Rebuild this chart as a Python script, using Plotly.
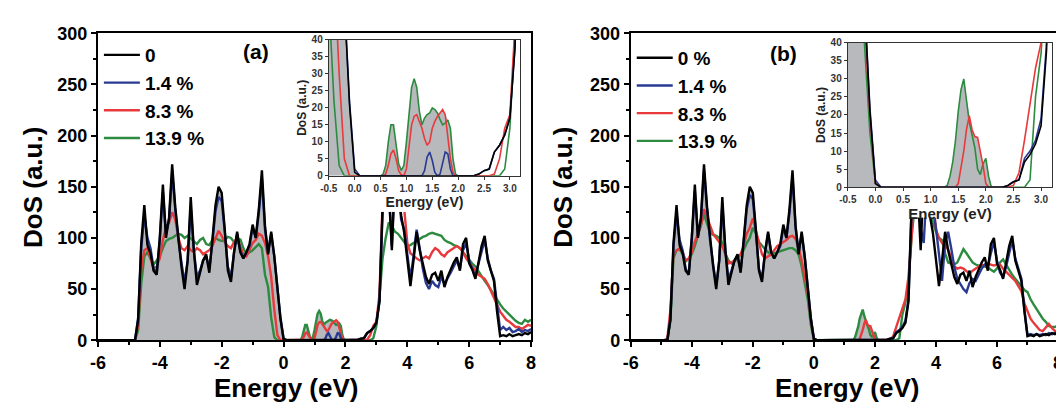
import numpy as np
import plotly.graph_objects as go

# page is 1064x413; the html body adds an 8px margin, so the figure is drawn 8px in
OFF = 8
W, H = 1064 - OFF, 413 - OFF

# ---------------- energy grid (eV) ----------------
energy_vb = [-6.0] + list(np.round(np.linspace(-5.0, 0.3, 54), 2))
energy_gap = list(np.round(np.linspace(0.40, 2.10, 35), 2))
energy_cb = list(np.round(np.linspace(2.2, 8.0, 59), 2))
energy = np.array(energy_vb + energy_gap + energy_cb)

# ---------------- 0 % (shared by both panels) ----------------
black_vb = [0, 0, 0, 0, 20, 95, 132, 93, 85, 68, 64, 100, 152, 100, 120, 172, 130, 97, 72, 50,
            78, 140, 88, 54, 66, 78, 84, 66, 98, 132, 150, 144, 108, 68, 57, 86, 106, 86, 80, 86,
            94, 113, 100, 128, 166, 112, 84, 106, 82, 50, 21, 1, 0, 0, 0]
black_gap = [0] * 35
black_cb = [0, 0, 0.5, 1.5, 2, 7, 9, 12, 17, 38, 130, 170, 150, 88, 160, 150, 122, 105, 80, 53,
            78, 106, 88, 75, 62, 55, 64, 66, 58, 68, 52, 62, 70, 76, 81, 68, 94, 100, 75, 69,
            60, 77, 92, 102, 78, 68, 58, 28, 4, 5, 4, 6, 4, 5, 6, 5, 7, 6, 8]

# ---------------- panel (a) ----------------
blue_a_vb = [0, 0, 0, 0, 22, 90, 122, 100, 90, 70, 66, 98, 145, 104, 118, 164, 128, 98, 76, 56,
             78, 130, 88, 62, 68, 78, 82, 70, 96, 126, 140, 136, 106, 72, 62, 86, 104, 88, 80, 86,
             92, 110, 100, 124, 158, 108, 86, 104, 82, 52, 22, 2, 0, 0, 0]
blue_a_gap = [0, 0, 0, 0, 0, 0, 0, 0, 0, 0, 0, 0,
              0, 0, 0, 0, 0, 0, 0, 1.5, 5.5, 7, 4.5, 1, 0, 0.5, 3.5, 7, 6.5, 2, 0, 0,
              0, 0, 0]
blue_a_cb = [0, 0, 0.5, 1.5, 2, 7, 9, 12, 17, 38, 125, 165, 145, 92, 165, 150, 118, 108, 85, 60,
             82, 108, 90, 70, 56, 50, 58, 54, 52, 62, 55, 60, 66, 72, 78, 70, 88, 95, 78, 70,
             62, 75, 88, 98, 80, 68, 60, 35, 10, 13, 10, 12, 8, 9, 11, 8, 10, 9, 11]

red_a_vb = [0, 0, 0, 0, 15, 70, 88, 90, 80, 70, 72, 80, 98, 110, 115, 125, 118, 100, 90, 88,
            92, 88, 86, 90, 88, 84, 86, 88, 92, 100, 107, 102, 96, 92, 90, 96, 100, 92, 84, 82,
            88, 95, 98, 104, 102, 95, 82, 62, 30, 5, 0, 0, 0, 0, 0]
red_a_gap = [0, 0, 0, 0, 0.5, 3, 6.5, 7.6, 5, 1.5, 0.3, 0,
             2, 8, 15, 17.5, 18, 16, 14, 11, 9, 10, 14, 16, 17.5, 18.5, 19.5, 18, 12, 5, 1, 0,
             0, 0, 0]
red_a_cb = [0, 0, 0, 0, 0, 0.5, 5, 14, 18, 45, 135, 180, 200, 190, 170, 160, 150, 128, 95, 85,
            82, 80, 78, 80, 82, 80, 86, 90, 88, 84, 82, 86, 88, 90, 92, 90, 86, 80, 76, 72,
            68, 64, 62, 60, 55, 48, 42, 35, 28, 24, 20, 18, 15, 13, 13, 11, 13, 15, 14]

green_a_vb = [0, 0, 0, 0, 10, 55, 82, 86, 80, 74, 78, 82, 90, 97, 99, 100, 102, 104, 103, 100,
              102, 99, 96, 94, 98, 100, 94, 93, 98, 100, 98, 97, 98, 101, 100, 96, 95, 99, 90, 84,
              86, 88, 91, 94, 90, 64, 52, 22, 3, 0, 0, 0, 0, 0, 0]
green_a_gap = [0, 0, 0, 0.5, 3, 10, 15, 15, 9, 3.5, 1.6, 3,
               10, 19, 26, 28.6, 26, 19, 15, 17, 18, 18.5, 20, 19.5, 18.5, 16.5, 15, 15.5, 16.4, 14, 5, 0.5,
               0, 0, 0]
green_a_cb = [0, 0, 0, 0, 0, 0, 0, 2, 14, 42, 80, 100, 115, 112, 106, 104, 100, 95, 92, 93,
              95, 97, 99, 101, 102, 104, 105, 104, 103, 102, 98, 96, 95, 93, 92, 90, 86, 82, 78, 75,
              72, 67, 63, 58, 54, 49, 44, 40, 35, 31, 28, 24, 21, 19, 17, 16, 20, 18, 20]

# ---------------- panel (b) ----------------
blue_b_vb = [0, 0, 0, 0, 22, 92, 124, 98, 88, 70, 64, 100, 146, 102, 118, 166, 128, 97, 74, 54,
             78, 132, 88, 60, 68, 78, 82, 68, 96, 128, 142, 138, 106, 70, 60, 86, 104, 86, 80, 86,
             92, 110, 100, 124, 160, 110, 86, 104, 82, 52, 22, 2, 0, 0, 0]
blue_b_gap = [0] * 35
blue_b_cb = [0, 0, 0.5, 1.5, 2, 8, 10, 13, 19, 40, 125, 165, 150, 110, 95, 150, 140, 130, 110, 85,
             58, 95, 106, 90, 72, 60, 55, 50, 47, 56, 60, 58, 64, 70, 74, 72, 85, 96, 78, 66,
             62, 72, 85, 98, 80, 70, 60, 30, 5, 6, 5, 6, 5, 6, 5, 7, 6, 7, 8]

red_b_vb = [0, 0, 0, 2, 30, 85, 88, 90, 86, 78, 80, 86, 96, 104, 112, 128, 120, 110, 104, 100,
            96, 92, 84, 75, 76, 78, 80, 84, 92, 104, 110, 119, 108, 96, 84, 80, 82, 84, 88, 92,
            94, 96, 98, 101, 102, 99, 90, 78, 60, 46, 20, 1, 0, 0, 0]
red_b_gap = [0] * 21 + [0, 1, 5, 10, 16, 19.8, 16, 14, 13.8, 10, 6, 1, 0, 0]
red_b_cb = [0, 0, 0, 0.5, 4, 13, 23, 33, 40, 62, 100, 150, 180, 190, 180, 170, 160, 140, 108, 100,
            95, 92, 89, 80, 72, 70, 71, 70, 67, 65, 68, 70, 72, 74, 73, 75, 74, 73, 74, 74,
            70, 67, 64, 62, 58, 53, 48, 36, 28, 21, 17, 13, 10, 9, 12, 16, 12, 9, 10]

green_b_vb = [0, 0, 0, 0, 20, 80, 88, 89, 84, 77, 80, 84, 92, 102, 112, 123, 114, 105, 103, 102,
              100, 95, 85, 78, 75, 77, 80, 84, 88, 95, 100, 110, 104, 96, 92, 89, 86, 84, 85, 86,
              87, 88, 89, 90, 90, 88, 84, 72, 56, 40, 15, 1, 0, 0, 0]
green_b_gap = [0] * 17 + [0, 0.5, 3, 7, 13, 21, 27, 30, 24, 18, 14.5, 11, 5, 3.5, 6.5, 8, 3, 0]
green_b_cb = [0, 0, 0, 0, 0, 0, 2, 25, 37, 55, 100, 130, 150, 160, 150, 140, 130, 115, 106, 100,
              98, 85, 76, 75, 74, 76, 82, 89, 85, 80, 76, 74, 73, 72, 72, 71, 69, 67, 70, 76,
              79, 74, 68, 64, 60, 56, 52, 49, 47, 40, 35, 30, 25, 21, 18, 14, 13, 13, 14]

labels_a = ["0", "1.4 %", "8.3 %", "13.9 %"]
labels_b = ["0 %", "1.4 %", "8.3 %", "13.9 %"]
x_ticks = [-6, -4, -2, 0, 2, 4, 6, 8]
y_ticks = [0, 50, 100, 150, 200, 250, 300]
inset_x_ticks = [-0.5, 0.0, 0.5, 1.0, 1.5, 2.0, 2.5, 3.0]
inset_y_ticks = [0, 5, 10, 15, 20, 25, 30, 35, 40]

# ---------------- styles ----------------
COL = {"black": "#000000", "blue": "#283a92", "red": "#e83a3c", "green": "#2d8b40"}
GRAY = "#b7b9bc"
FONT = "Arial, Liberation Sans, sans-serif"


def series(vb, gap, cb):
    return np.array(vb + gap + cb, dtype=float)


black = series(black_vb, black_gap, black_cb)
panel_a = {
    "black": black,
    "blue": series(blue_a_vb, blue_a_gap, blue_a_cb),
    "red": series(red_a_vb, red_a_gap, red_a_cb),
    "green": series(green_a_vb, green_a_gap, green_a_cb),
}
panel_b = {
    "black": black,
    "blue": series(blue_b_vb, blue_b_gap, blue_b_cb),
    "red": series(red_b_vb, red_b_gap, red_b_cb),
    "green": series(green_b_vb, green_b_gap, green_b_cb),
}


def fx(px):  # page pixel -> paper fraction
    return (px - OFF) / W


def fy(py):
    return 1 - (py - OFF) / H


fig = go.Figure()

vb_mask = energy <= 0.3
gap_mask = (energy >= 0.3) & (energy <= 2.2)


def add_panel(data, labels, xa, ya, legend_name, inset_xa, inset_ya):
    for (ax, ay, main) in [(xa, ya, True), (inset_xa, inset_ya, False)]:
        fig.add_trace(go.Scatter(x=energy[vb_mask], y=data["black"][vb_mask], mode="lines",
                                 line=dict(width=0), fill="tozeroy", fillcolor=GRAY,
                                 xaxis=ax, yaxis=ay, showlegend=False, hoverinfo="skip"))
        gap_top = np.maximum(np.maximum(data["green"], data["red"]), data["blue"])
        fig.add_trace(go.Scatter(x=energy[gap_mask], y=gap_top[gap_mask], mode="lines",
                                 line=dict(width=0), fill="tozeroy", fillcolor=GRAY,
                                 xaxis=ax, yaxis=ay, showlegend=False, hoverinfo="skip"))
        order = ["green", "red", "blue", "black"]
        rank = {"black": 1, "blue": 2, "red": 3, "green": 4}
        idx = {"black": 0, "blue": 1, "red": 2, "green": 3}
        for key in order:
            fig.add_trace(go.Scatter(
                x=energy, y=data[key], mode="lines",
                line=dict(color=COL[key], width=2.4 if main else 1.6),
                name=labels[idx[key]], xaxis=ax, yaxis=ay,
                showlegend=main, legend=legend_name, legendrank=rank[key],
                legendgroup=legend_name + key, hoverinfo="skip"))


add_panel(panel_a, labels_a, "x", "y", "legend", "x5", "y5")
add_panel(panel_b, labels_b, "x2", "y2", "legend2", "x6", "y6")

# empty traces creating the white backdrops behind insets
for ax, ay in [("x3", "y3"), ("x4", "y4")]:
    fig.add_trace(go.Scatter(x=[None], y=[None], xaxis=ax, yaxis=ay, showlegend=False,
                             hoverinfo="skip"))

tickfont_main = dict(family=FONT, size=18, color="black", weight="bold")
TITLE_FONT = dict(family=FONT, size=26, color="black", weight="bold")


def main_x(domain, anchor):
    return dict(domain=domain, range=[-6, 8], tickvals=x_ticks,
                ticktext=[str(v) for v in x_ticks], ticks="outside", ticklen=5,
                tickwidth=2, tickcolor="black", showline=True, linewidth=2, linecolor="black",
                mirror=True, showgrid=False, zeroline=False, tickfont=tickfont_main, anchor=anchor,
                minor=dict(dtick=1, ticks="outside", ticklen=3, tickwidth=1.5, tickcolor="black"))


def main_y(domain, anchor):
    return dict(domain=domain, range=[0, 300], tickvals=y_ticks, ticks="outside", ticklen=5,
                tickwidth=2, tickcolor="black", showline=True, linewidth=2, linecolor="black",
                mirror=True, showgrid=False, zeroline=False, tickfont=tickfont_main, anchor=anchor,
                minor=dict(dtick=25, ticks="outside", ticklen=3, tickwidth=1.5, tickcolor="black"))


inset_tick = dict(family=FONT, size=10, color="#333333", weight="bold")


def inset_x(domain, anchor, tsize):
    return dict(domain=domain, range=[-0.5, 3.2], tickvals=inset_x_ticks,
                ticktext=[f"{v:.1f}" for v in inset_x_ticks],
                ticks="outside", ticklen=3, tickwidth=1, tickcolor="#333", showline=True,
                linewidth=1.2, linecolor="#333", mirror=True, showgrid=False, zeroline=False,
                tickfont=inset_tick, anchor=anchor,
                title=dict(text="Energy (eV)", standoff=2,
                           font=dict(family=FONT, size=tsize, color="#222", weight="bold")))


def inset_y(domain, anchor):
    return dict(domain=domain, range=[0, 40], tickvals=inset_y_ticks, ticks="outside",
                ticklen=3, tickwidth=1, tickcolor="#333", showline=True, linewidth=1.2,
                linecolor="#333", mirror=True, showgrid=False, zeroline=False,
                tickfont=inset_tick, anchor=anchor,
                title=dict(text="DoS (a.u.)", standoff=2,
                           font=dict(family=FONT, size=12, color="#222", weight="bold")))


hidden = dict(visible=False, showgrid=False, zeroline=False, range=[0, 1])

legend_common = dict(bgcolor="rgba(0,0,0,0)", borderwidth=0, xanchor="left", yanchor="top",
                     font=dict(family=FONT, size=19, color="black", weight="bold"),
                     tracegroupgap=3, itemwidth=36, traceorder="normal")


def label(text, px, py, size=20, angle=0):
    return dict(text=text, x=fx(px), y=fy(py), xref="paper", yref="paper", showarrow=False,
                xanchor="center", yanchor="middle", textangle=angle,
                font=TITLE_FONT | dict(size=size))


fig.update_layout(
    width=W, height=H, margin=dict(l=0, r=0, t=0, b=0),
    paper_bgcolor="white", plot_bgcolor="white",
    font=dict(family=FONT),
    xaxis=main_x([fx(90), fx(529)], "y"),
    yaxis=main_y([fy(347), fy(24)], "x"),
    xaxis2=main_x([fx(630), fx(1063)], "y2"),
    yaxis2=main_y([fy(347), fy(24)], "x2"),
    xaxis3=hidden | dict(domain=[fx(292), fx(526)], anchor="y3"),
    yaxis3=hidden | dict(domain=[fy(212), fy(26)], anchor="x3"),
    xaxis4=hidden | dict(domain=[fx(815), fx(1061)], anchor="y4"),
    yaxis4=hidden | dict(domain=[fy(218), fy(26)], anchor="x4"),
    xaxis5=inset_x([fx(324), fx(518)], "y5", 14),
    yaxis5=inset_y([fy(174), fy(31)], "x5"),
    xaxis6=inset_x([fx(850), fx(1057)], "y6", 15),
    yaxis6=inset_y([fy(186), fy(34)], "x6"),
    legend=legend_common | dict(x=fx(91), y=fy(27)),
    legend2=legend_common | dict(x=fx(631), y=fy(30)),
    annotations=[
        label("(a)", 250, 43, 21),
        label("(b)", 785, 45, 21),
        label("Energy (eV)", 281, 397, 26),
        label("Energy (eV)", 850, 397, 26),
        label("DoS (a.u.)", 24, 186, 26, -90),
        label("DoS (a.u.)", 562, 186, 26, -90),
    ],
)

fig.write_html("out.html")
